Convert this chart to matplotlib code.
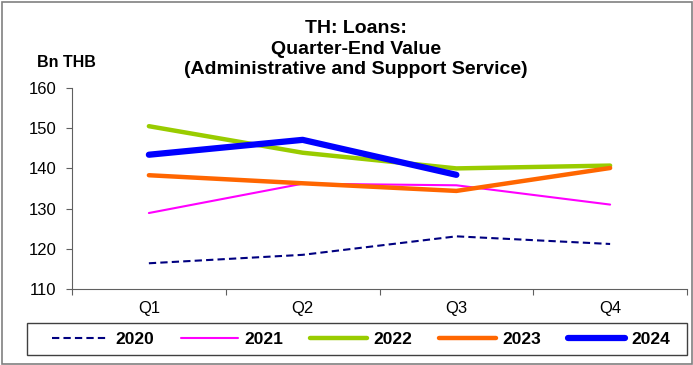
import matplotlib
matplotlib.use("Agg")
import matplotlib.pyplot as plt
from matplotlib.patches import Rectangle

plt.rcParams['font.family'] = ['Liberation Sans', 'DejaVu Sans']

quarters = ["Q1", "Q2", "Q3", "Q4"]
years = ["2020", "2021", "2022", "2023", "2024"]
v2020 = [116.4, 118.5, 123.1, 121.2]
v2021 = [128.9, 136.2, 135.8, 131.0]
v2022 = [150.5, 143.9, 140.0, 140.7]
v2023 = [138.3, 136.3, 134.4, 140.1]
v2024 = [143.4, 147.1, 138.4]
yticks = [110, 120, 130, 140, 150, 160]
title_lines = ["TH: Loans:", "Quarter-End Value", "(Administrative and Support Service)"]

series = [v2020, v2021, v2022, v2023, v2024]
styles = [
    dict(color="#000080", lw=1.5, ls=(0, (3.5, 2))),
    dict(color="#FF00FF", lw=1.5, ls="-"),
    dict(color="#99CC00", lw=3.2, ls="-"),
    dict(color="#FF6600", lw=3.2, ls="-"),
    dict(color="#0000FF", lw=4.5, ls="-"),
]

W, H = 693, 365
fig = plt.figure(figsize=(W / 100, H / 100), dpi=100)
fig.patches.append(Rectangle((1.5 / W, 1.5 / H), 1 - 3 / W, 1 - 3 / H, transform=fig.transFigure,
                             fill=False, edgecolor="#808080", lw=1.2))
ax = fig.add_axes([72 / W, 1 - 289 / H, (687 - 72) / W, (289 - 88) / H])

handles = []
for y, vals, st in zip(years, series, styles):
    xs = [i + 0.5 for i in range(len(vals))]
    h, = ax.plot(xs, vals, label=y, solid_capstyle="round", **st)
    handles.append(h)

ax.set_xlim(0, 4)
ax.set_ylim(110, 160)
ax.set_yticks(yticks)
ax.set_xticks([0, 1, 2, 3, 4])
ax.set_xticklabels([])
ax.set_xticks([0.5, 1.5, 2.5, 3.5], minor=True)
ax.set_xticklabels(quarters, minor=True)
ax.tick_params(axis="x", which="minor", length=0, pad=9, labelsize=12)
ax.tick_params(axis="x", which="major", length=4, color="#606060")
ax.tick_params(axis="y", length=4, labelsize=12, color="#606060", pad=7)
for s in ["top", "right"]:
    ax.spines[s].set_visible(False)
for s in ["left", "bottom"]:
    ax.spines[s].set_color("#606060")

baselines = [33, 53.5, 74]
for txt, b in zip(title_lines, baselines):
    fig.text(356 / W, 1 - b / H, txt, ha="center", va="baseline",
             fontsize=14, fontweight="bold")
fig.text(66.5 / W, 1 - 67 / H, "Bn THB", ha="center", va="baseline",
         fontsize=11.5, fontweight="bold")

fig.patches.append(Rectangle((27 / W, 1 - 355 / H), (687 - 27) / W, (355 - 323) / H,
                             transform=fig.transFigure, fill=False,
                             edgecolor="#404040", lw=1.0))
leg = fig.legend(handles=handles, loc="center", ncol=5,
                 bbox_to_anchor=(361 / W, 1 - 339.5 / H),
                 frameon=False, prop=dict(weight="bold", size=12.5),
                 handlelength=3.3, handletextpad=0.35, columnspacing=1.55,
                 borderpad=0, borderaxespad=0)

fig.savefig("out.png", dpi=100)
